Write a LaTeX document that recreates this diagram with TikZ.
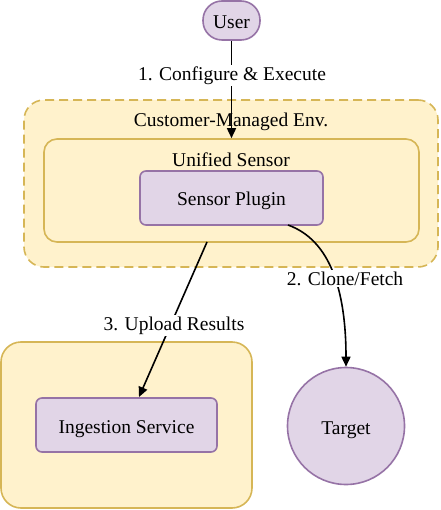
\documentclass[tikz,border=0pt]{standalone}
\usepackage{fontspec}
\setmainfont{Liberation Serif}
\usetikzlibrary{arrows.meta,shapes.geometric}
\definecolor{pfill}{HTML}{E1D5E7}
\definecolor{pdraw}{HTML}{9673A6}
\definecolor{yfill}{HTML}{FFF2CC}
\definecolor{ydraw}{HTML}{D6B656}
\tikzset{
  purplebox/.style={draw=pdraw,fill=pfill,line width=1.6pt,rounded corners=6pt,inner sep=0pt},
  yellowbox/.style={draw=ydraw,fill=yfill,line width=1.6pt,inner sep=0pt},
  conn/.style={draw=black,line width=1.6pt,-{Triangle[length=10pt,width=9pt]}},
  lbl/.style={fill=white,inner sep=1.5pt,font=\fontsize{19.5}{22}\selectfont},
  txt/.style={font=\fontsize{19.5}{22}\selectfont},
  boxtxt/.style={txt,text height=20pt,text depth=4pt}
}
\begin{document}
\begin{tikzpicture}[x=1pt,y=-1pt]
\useasboundingbox (0,0) rectangle (440,510);
% outer customer env
\node[yellowbox,dashed,dash pattern=on 9pt off 5pt,rounded corners=20pt,minimum width=414pt,minimum height=167pt] (env) at (231,183.5) {};
\node[txt] (envlbl) at (231,122.2) {Customer-Managed Env.};
\node[yellowbox,rounded corners=13pt,minimum width=375pt,minimum height=103pt] (us) at (231.5,190.5) {};
\node[txt] (uslbl) at (231,160.2) {Unified Sensor};
\node[purplebox,minimum width=183pt,minimum height=54pt,boxtxt] (sp) at (231.5,198) {Sensor Plugin};
% ingestion group
\node[yellowbox,rounded corners=20pt,minimum width=251pt,minimum height=166pt] (ing) at (126.5,425) {};
\node[purplebox,minimum width=181pt,minimum height=54pt,boxtxt] (is) at (126.5,425) {Ingestion Service};
% target
\node[circle,draw=pdraw,fill=pfill,line width=1.6pt,minimum size=117pt,inner sep=0pt,boxtxt] (tg) at (346,426) {Target};
% user
\node[draw=pdraw,fill=pfill,line width=1.6pt,rounded corners=19pt,minimum width=57pt,minimum height=39pt,inner sep=0pt,boxtxt] (user) at (231.5,20.5) {User};
% connectors
\draw[conn] (user.south) -- (us.north);
\node[lbl] (l1) at (232,75.5) {1. Configure \& Execute};
\coordinate (a3s) at (207,242);
\coordinate (a3e) at (139,397);
\draw[conn] (a3s) -- (a3e);
\node[lbl] (l3) at (174,325.5) {3. Upload Results};
\coordinate (a2s) at (288,225);
\draw[conn] (a2s) .. controls (330,240) and (346,290) .. (tg.north);
\node[lbl] (l2) at (345,278.8) {2. Clone/Fetch};
\end{tikzpicture}
\end{document}
